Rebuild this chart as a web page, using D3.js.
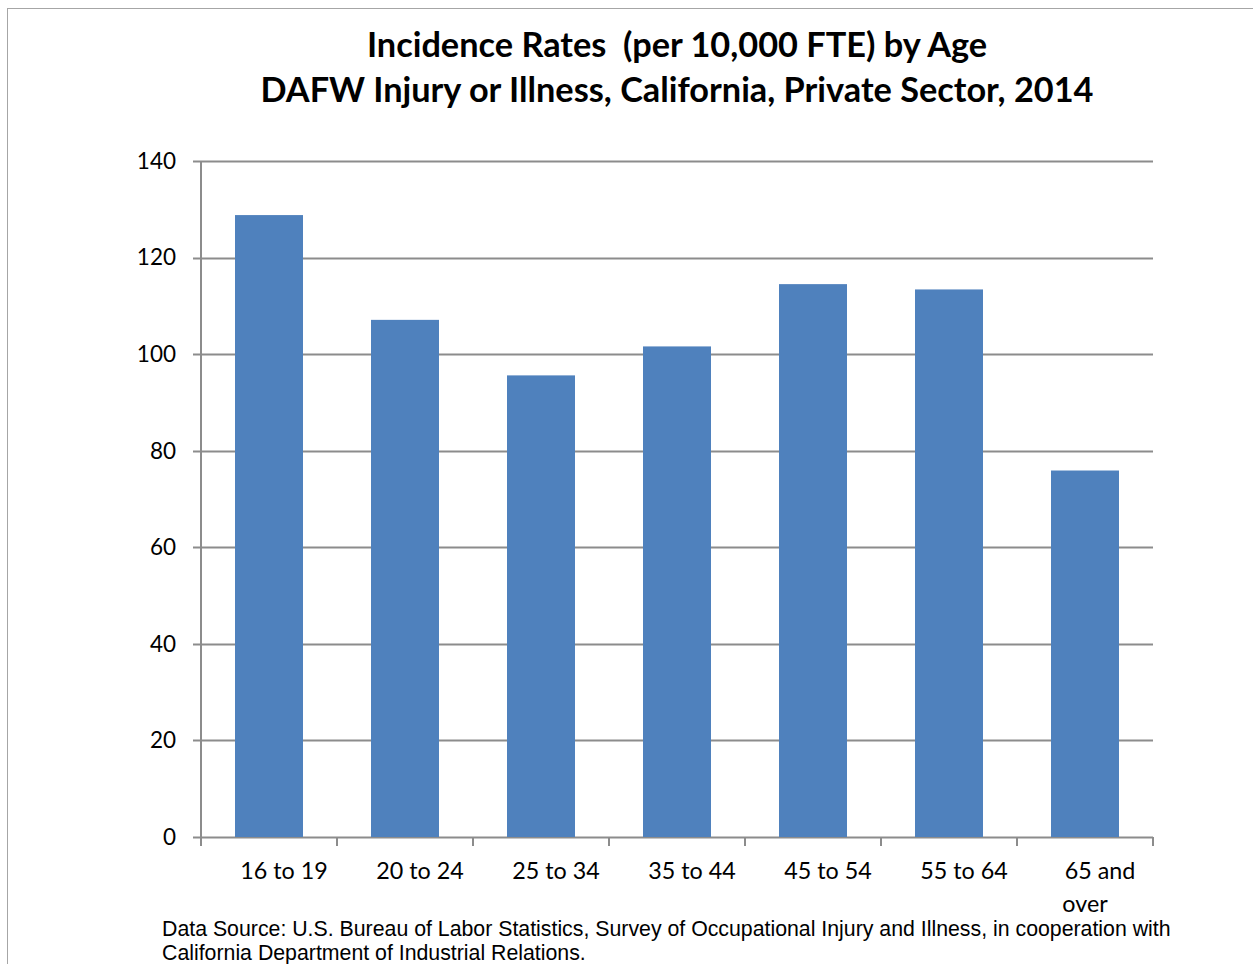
<!DOCTYPE html>
<html>
<head>
<meta charset="utf-8">
<script src="https://cdn.jsdelivr.net/npm/d3@7"></script>
<style>
  html, body { margin: 0; padding: 0; background: #fff; }
  svg { display: block; }
  text { white-space: pre; }
</style>
</head>
<body>
<svg id="chart" width="1253" height="964"></svg>
<script>
// Data
const categories = ["16 to 19", "20 to 24", "25 to 34", "35 to 44", "45 to 54", "55 to 64", "65 and over"];
const rates = [128.8, 107.1, 95.6, 101.6, 114.5, 113.4, 75.9];
const yTicks = [0, 20, 40, 60, 80, 100, 120, 140];
const titleLines = ["Incidence Rates  (per 10,000 FTE) by Age", "DAFW Injury or Illness, California, Private Sector, 2014"];
const sourceLines = [
  "Data Source: U.S. Bureau of Labor Statistics, Survey of Occupational Injury and Illness, in cooperation with",
  "California Department of Industrial Relations."
];

const svg = d3.select("#chart");
const margin = { left: 201, right: 100, top: 161, bottom: 127 };
const width = 1253, height = 964;

// outer frame (only top and left edges are in view)
svg.append("rect")
  .attr("x", 7.5).attr("y", 8.5)
  .attr("width", 1300).attr("height", 1000)
  .attr("fill", "none")
  .attr("stroke", "#a6a6a6");

const x = d3.scaleBand()
  .domain(categories)
  .range([margin.left, width - margin.right])
  .paddingInner(0.5)
  .paddingOuter(0.25);

const y = d3.scaleLinear()
  .domain([0, 140])
  .range([height - margin.bottom, margin.top]);

// title
svg.append("g").selectAll("text")
  .data(titleLines)
  .join("text")
  .attr("x", 677)
  .attr("y", (d, i) => 57 + i * 45)
  .attr("text-anchor", "middle")
  .attr("font-family", "Lato, 'Open Sans', sans-serif")
  .attr("font-weight", "bold")
  .attr("font-size", 34.3)
  .attr("fill", "#000")
  .text(d => d);

// gridlines
svg.append("g").selectAll("line")
  .data(yTicks)
  .join("line")
  .attr("x1", margin.left - 8)
  .attr("x2", width - margin.right)
  .attr("y1", d => Math.round(y(d)) + 0.5)
  .attr("y2", d => Math.round(y(d)) + 0.5)
  .attr("stroke", "#8c8c8c")
  .attr("stroke-width", 2);

// y axis labels
svg.append("g").selectAll("text")
  .data(yTicks)
  .join("text")
  .attr("x", 176)
  .attr("y", d => y(d))
  .attr("dy", "0.35em")
  .attr("text-anchor", "end")
  .attr("font-family", "Lato, 'Open Sans', sans-serif")
  .attr("font-size", 22.5)
  .attr("fill", "#000")
  .text(d => d);

// y axis line
svg.append("line")
  .attr("x1", margin.left).attr("x2", margin.left)
  .attr("y1", y(140)).attr("y2", y(0))
  .attr("stroke", "#8c8c8c")
  .attr("stroke-width", 2);

// bars
svg.append("g").selectAll("rect")
  .data(rates)
  .join("rect")
  .attr("x", (d, i) => x(categories[i]))
  .attr("y", d => y(d))
  .attr("width", x.bandwidth())
  .attr("height", d => y(0) - y(d))
  .attr("fill", "#4f81bd");

// x ticks at category boundaries
const step = x.step();
const bounds = d3.range(categories.length + 1).map(i => margin.left + i * step);
svg.append("g").selectAll("line")
  .data(bounds)
  .join("line")
  .attr("x1", d => d).attr("x2", d => d)
  .attr("y1", y(0)).attr("y2", y(0) + 9)
  .attr("stroke", "#8c8c8c")
  .attr("stroke-width", 2);

// x category labels (wrap long ones); Excel leaves them nudged right
const labels = svg.append("g").selectAll("text")
  .data(categories)
  .join("text")
  .attr("text-anchor", "middle")
  .attr("font-family", "Lato, 'Open Sans', sans-serif")
  .attr("font-size", 23.3)
  .attr("fill", "#000");

labels.each(function(d) {
  const cx = x(d) + x.bandwidth() / 2;
  const parts = d === "65 and over" ? ["65 and", "over"] : [d];
  d3.select(this).selectAll("tspan")
    .data(parts)
    .join("tspan")
    .attr("x", (p, i) => i === 0 ? cx + 15 : cx)
    .attr("y", (p, i) => 879 + i * 33)
    .text(p => p);
});

// data source note
svg.append("g").selectAll("text")
  .data(sourceLines)
  .join("text")
  .attr("x", 162)
  .attr("y", (d, i) => 936 + i * 24)
  .attr("font-family", "'Liberation Sans', Arial, sans-serif")
  .attr("font-size", 21.3)
  .attr("fill", "#000")
  .text(d => d);
</script>
</body>
</html>
